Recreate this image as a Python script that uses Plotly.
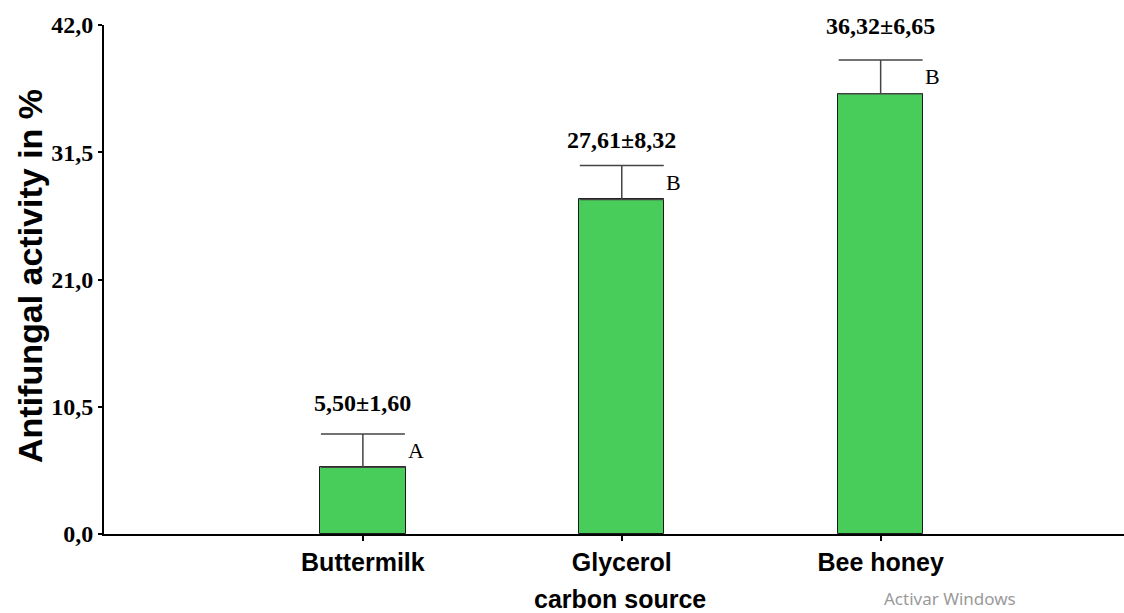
import plotly.graph_objects as go

# ---- data ----
categories = ["Buttermilk", "Glycerol", "Bee honey"]
means = [5.50, 27.61, 36.32]
sds = [1.60, 8.32, 6.65]
err_drawn = [2.75, 2.80, 2.80]
letters = ["A", "B", "B"]
y_ticks = [0.0, 10.5, 21.0, 31.5, 42.0]

# ---- style ----
BAR_COLOR = "rgb(72,205,90)"
BAR_W = 0.33
SERIF = "Liberation Serif, Times New Roman, serif"
SANS = "Liberation Sans, Arial, sans-serif"
label_shift = [16, 10, 19]

def fmt(v):
    return f"{v:.2f}".replace(".", ",")

xs = list(range(len(categories)))

fig = go.Figure()
fig.add_trace(go.Bar(
    x=xs, y=means, width=BAR_W,
    marker=dict(color=BAR_COLOR, line=dict(color="#1a1a1a", width=1)),
    error_y=dict(type="data", symmetric=False, array=err_drawn,
                 arrayminus=[0] * len(means), color="#444444",
                 thickness=1.5, width=42),
    showlegend=False, hoverinfo="skip",
))

ann = []
for i, (m, s, e, L) in enumerate(zip(means, sds, err_drawn, letters)):
    ann.append(dict(x=i, y=m + e, xref="x", yref="y", text=f"<b>{fmt(m)}±{fmt(s)}</b>",
                    showarrow=False, yanchor="bottom", yshift=label_shift[i],
                    font=dict(family=SERIF, size=24, color="black")))
    ann.append(dict(x=i + BAR_W / 2, y=m + e / 2, xref="x", yref="y", text=L,
                    showarrow=False, xanchor="left", yanchor="middle", xshift=0,
                    font=dict(family=SERIF, size=22, color="black")))

ann.append(dict(x=-0.0725, y=0.507, xref="paper", yref="paper",
                text="<b>Antifungal activity in %</b>", textangle=-90,
                showarrow=False, xanchor="center", yanchor="middle",
                font=dict(family=SANS, size=34, color="black")))
ann.append(dict(x=0.506, y=(534 - 599) / 509, xref="paper", yref="paper",
                text="<b>carbon source</b>", showarrow=False,
                xanchor="center", yanchor="middle",
                font=dict(family=SANS, size=25, color="black")))
ann.append(dict(x=(950 - 104) / 1020, y=(534 - 598) / 509, xref="paper", yref="paper",
                text="Activar Windows", showarrow=False,
                xanchor="center", yanchor="middle",
                font=dict(family="Noto Sans, Open Sans, sans-serif", size=17, color="#9a9a9a")))

fig.update_layout(
    width=1124, height=613, autosize=False,
    margin=dict(l=104, r=0, t=25, b=79),
    paper_bgcolor="white", plot_bgcolor="white",
    separators=",.",
    annotations=ann,
    bargap=0,
)
fig.update_xaxes(
    range=[-1, 2.94], tickvals=xs, ticktext=categories,
    showline=True, linecolor="black", linewidth=2,
    ticks="outside", ticklen=5, tickwidth=1.5, tickcolor="black",
    tickfont=dict(family=SANS, size=25, color="black", weight="bold"),
    showgrid=False, zeroline=False, fixedrange=True,
)
fig.update_yaxes(
    range=[0, 42], tickvals=y_ticks, tickformat=".1f",
    showline=True, linecolor="black", linewidth=2,
    ticks="outside", ticklen=4, tickwidth=1.5, tickcolor="black",
    tickfont=dict(family=SERIF, size=24, color="black", weight="bold"),
    showgrid=False, zeroline=False, fixedrange=True,
)

fig.write_html("out.html", config={"displayModeBar": False})
